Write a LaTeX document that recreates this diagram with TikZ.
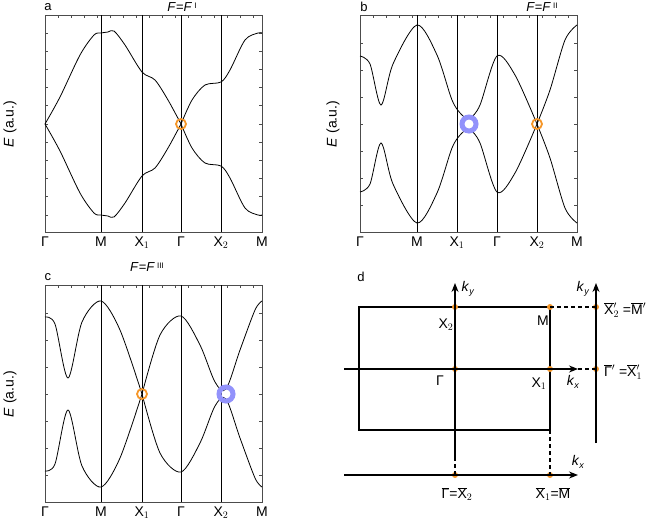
\documentclass[tikz,border=0pt]{standalone}
\usepackage{fontspec}
\setmainfont{Liberation Sans}
\usetikzlibrary{arrows.meta}
\definecolor{dorange}{RGB}{245,150,40}
\definecolor{dblue}{RGB}{110,110,250}
\tikzset{x=1pt,y=-1pt,
 band/.style={line width=0.8pt},
 frame/.style={line width=0.7pt,draw=black!70},
 vline/.style={line width=0.7pt},
 lbl/.style={font=\fontsize{14}{16}\selectfont,inner sep=0pt},
 plbl/.style={font=\fontsize{13}{15}\selectfont,inner sep=0pt},
 axl/.style={line width=1.2pt},
 arr/.style={line width=1.2pt,-{Stealth[length=9pt,width=7pt]}},
 dsh/.style={line width=1.1pt,dashed,dash pattern=on 4pt off 3pt},
 dot/.style={circle,fill=dorange,inner sep=0pt,minimum size=6pt},
 oring/.style={draw=dorange,line width=1.8pt,circle,inner sep=0pt,minimum size=10pt},
 bring/.style={draw=dblue!75,line width=5pt,circle,inner sep=0pt,minimum size=14pt}}
\newcommand\ticks[5]{%
 \foreach \k in {-5,...,5}{\pgfmathsetmacro\yy{#5+\k*\tsp}
   \ifdim \yy pt>#3pt \ifdim \yy pt<#4pt
   \draw[frame] (#1,\yy)--++(3,0); \draw[frame] (#2,\yy)--++(-3,0);\fi\fi}}
\newcommand\topticks[2]{\foreach \xx in {#1}{\draw[frame] (\xx,#2)--++(0,3);}}
\newcommand\ovl[1]{$\overline{\hbox{#1}}$}
\newcommand\Gm{Γ}
\newcommand\kk[1]{\textit{k}\raisebox{-0.4ex}{\fontsize{9}{10}\selectfont\textit{#1}}}
\begin{document}
\begin{tikzpicture}
\useasboundingbox (0,0) rectangle (654,525);
% ---------- panel a
\draw[frame] (45,15) rectangle (262,232);
\def\tsp{18.2}\ticks{45}{262}{16}{231}{124}
\topticks{58,71,...,255}{15}
\foreach \x in {101,142,181,221}\draw[vline] (\x,15)--(\x,232);
\begin{scope}[shift={(0,124)}]
\draw[band] plot[smooth] coordinates {(45,0)(60,-27)(80,-69)(94,-89)(101,-91)(108,-92)(114,-93)(125,-79)(142,-52)(155,-44)(168,-24)(181,0)};
\draw[band] plot[smooth] coordinates {(181,0)(192,-24)(205,-39)(221,-42)(230,-54)(245,-84)(258,-91)(262,-91)};
\begin{scope}[yscale=-1]
\draw[band] plot[smooth] coordinates {(45,0)(60,-27)(80,-69)(94,-89)(101,-91)(108,-92)(114,-93)(125,-79)(142,-52)(155,-44)(168,-24)(181,0)};
\draw[band] plot[smooth] coordinates {(181,0)(192,-24)(205,-39)(221,-42)(230,-54)(245,-84)(258,-91)(262,-91)};
\end{scope}\end{scope}
\node[oring] (ra) at (181,124) {};
\node[plbl] (la) at (48,7) {a};
\node[plbl] (ta) at (182,7) {\textit{F}=\textit{F}\,\raisebox{0.5ex}{\fontsize{8}{9}\selectfont I}};
\node[lbl,rotate=90] (ea) at (10,124) {\textit{E} (a.u.)};
\foreach \x/\t [count=\i] in {45/\Gm,101/M,142/X$_1$,181/\Gm,221/X$_2$,262/M}
 \node[lbl,anchor=north] (xa\i) at (\x,237) {\t};
% ---------- panel b
\draw[frame] (360,15) rectangle (577,232);
\def\tsp{27}\ticks{360}{577}{16}{231}{124}
\topticks{373,386,...,570}{15}
\foreach \x in {417,457,497,537}\draw[vline] (\x,15)--(\x,232);
\begin{scope}[shift={(0,124)}]
\draw[band] plot[smooth] coordinates {(360,-68)(370,-60)(381,-19)(393,-60)(417,-99)(437,-69)(452,-24)(462,-9)(470,-6)(480,-19)(497,-68)(515,-49)(537,0)};
\draw[band] plot[smooth] coordinates {(537,0)(550,-34)(565,-84)(577,-99)};
\begin{scope}[yscale=-1]
\draw[band] plot[smooth] coordinates {(360,-68)(370,-60)(381,-19)(393,-60)(417,-99)(437,-69)(452,-24)(462,-9)(470,-6)(480,-19)(497,-68)(515,-49)(537,0)};
\draw[band] plot[smooth] coordinates {(537,0)(550,-34)(565,-84)(577,-99)};
\end{scope}\end{scope}
\node[bring] (rb1) at (469,124) {};
\node[oring] (rb2) at (537,124) {};
\node[plbl] (lb) at (364,7) {b};
\node[plbl] (tb) at (542,7) {\textit{F}=\textit{F}\,\raisebox{0.5ex}{\fontsize{8}{9}\selectfont II}};
\node[lbl,rotate=90] (eb) at (333,124) {\textit{E} (a.u.)};
\foreach \x/\t [count=\i] in {360/\Gm,417/M,457/X$_1$,497/\Gm,537/X$_2$,577/M}
 \node[lbl,anchor=north] (xb\i) at (\x,237) {\t};
% ---------- panel c
\draw[frame] (45,285) rectangle (262,502);
\def\tsp{27}\ticks{45}{262}{286}{501}{394}
\topticks{58,71,...,255}{285}
\foreach \x in {101,142,181,221}\draw[vline] (\x,285)--(\x,502);
\begin{scope}[shift={(0,394)}]
\draw[band] plot[smooth] coordinates {(45,-77)(55,-70)(68,-16)(82,-72)(101,-93)(120,-64)(142,0)};
\draw[band] plot[smooth] coordinates {(142,0)(160,-59)(181,-78)(200,-49)(215,-12)(226,-5)(240,-44)(255,-84)(262,-93)};
\begin{scope}[yscale=-1]
\draw[band] plot[smooth] coordinates {(45,-77)(55,-70)(68,-16)(82,-72)(101,-93)(120,-64)(142,0)};
\draw[band] plot[smooth] coordinates {(142,0)(160,-59)(181,-78)(200,-49)(215,-12)(226,-5)(240,-44)(255,-84)(262,-93)};
\end{scope}\end{scope}
\node[oring] (rc1) at (142,394) {};
\node[bring] (rc2) at (226,394) {};
\node[plbl] (lc) at (48,277) {c};
\node[plbl] (tc) at (147,267) {\textit{F}=\textit{F}\,\raisebox{0.5ex}{\fontsize{8}{9}\selectfont III}};
\node[lbl,rotate=90] (ec) at (10,394) {\textit{E} (a.u.)};
\foreach \x/\t [count=\i] in {45/\Gm,101/M,142/X$_1$,181/\Gm,221/X$_2$,262/M}
 \node[lbl,anchor=north] (xc\i) at (\x,507) {\t};
% ---------- panel d
\node[plbl] (ld) at (361,277) {d};
\coordinate (r1) at (359,307); \coordinate (r2) at (550,430);
\draw[axl] (r1) rectangle (r2);
\node[dot] (G) at (455,369) {};
\node[dot] (X1) at (550,369) {};
\node[dot] (X2) at (455,307) {};
\node[dot] (M) at (550,307) {};
\node[dot] (Xp) at (596,307) {};
\node[dot] (Gp) at (596,369) {};
\node[dot] (Gb) at (455,475) {};
\node[dot] (Xb) at (550,475) {};
\coordinate (hl) at (344,369); \coordinate (hr) at (578,369);
\coordinate (vb) at (455,457); \coordinate (vt) at (455,283);
\coordinate (rb) at (596,443); \coordinate (rt) at (596,283);
\coordinate (bl) at (344,475); \coordinate (br) at (578,475);
\draw[arr] (hl)--(hr);
\draw[arr] (vb)--(vt);
\draw[arr] (rb)--(rt);
\draw[arr] (bl)--(br);
\draw[dsh] (hr)--(Gp.center);
\draw[dsh] (M.center)--(Xp.center);
\draw[dsh] (vb)--(Gb.center);
\draw[dsh] (r2)--(Xb.center);
\node[lbl] (tX2) at (446,325) {X$_2$};
\node[lbl] (tM) at (543,321) {M};
\node[lbl] (tG) at (440,381) {\Gm};
\node[lbl] (tX1) at (539,384) {X$_1$};
\node[lbl] (kx1) at (573,382) {\kk{x}};
\node[lbl] (ky1) at (468,289) {\kk{y}};
\node[lbl] (ky2) at (583,289) {\kk{y}};
\node[lbl,anchor=west] (tXp) at (604,310) {\ovl{X}$'_2$ =\ovl{M}$'$};
\node[lbl,anchor=west] (tGp) at (604,372) {\ovl{\Gm}$'$ =\ovl{X}$'_1$};
\node[lbl] (tGb) at (457,494) {\ovl{\Gm}=\ovl{X}$_2$};
\node[lbl] (tXb) at (553,494) {\ovl{X}$_1$=\ovl{M}};
\node[lbl] (kx2) at (578,462) {\kk{x}};
\end{tikzpicture}
\end{document}
